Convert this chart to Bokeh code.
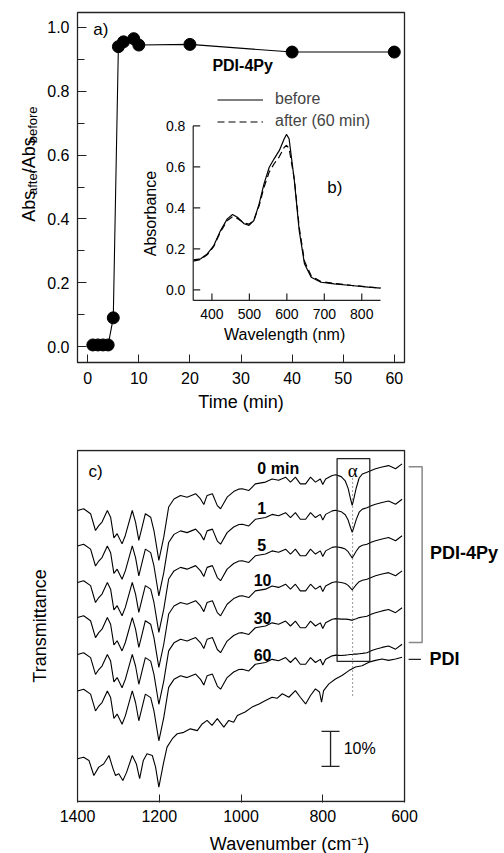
from math import pi
from bokeh.plotting import figure
from bokeh.layouts import column, row
from bokeh.models import Range1d, FixedTicker, PrintfTickFormatter, Legend, LegendItem
from bokeh.core.properties import value
from bokeh.embed import file_html
from bokeh.resources import INLINE

FONT = "Liberation Sans"
INK = "#222222"

# ---------------- panel a) data ----------------
TIME_MIN = [1, 2, 3, 4, 5, 6, 7, 9, 10, 20, 40, 60]
ABS_RATIO = [0.005, 0.005, 0.005, 0.005, 0.09, 0.94, 0.955, 0.965, 0.945, 0.947, 0.923, 0.923]
A_XTICKS = [0, 10, 20, 30, 40, 50, 60]
A_YTICKS = [0.0, 0.2, 0.4, 0.6, 0.8, 1.0]
A_YMINOR = [0.1, 0.3, 0.5, 0.7, 0.9]

# ---------------- panel b) data (inset) ----------------
WL_NM = [350, 370, 388, 405, 423, 441, 455, 468, 486, 499, 512, 526, 539, 553, 566,
         580, 593, 599, 606, 620, 633, 647, 665, 691, 727, 772, 817, 850]
ABS_BEFORE = [0.146, 0.151, 0.176, 0.216, 0.289, 0.346, 0.367, 0.354, 0.322, 0.314, 0.338,
              0.419, 0.517, 0.598, 0.639, 0.680, 0.737, 0.758, 0.737, 0.533, 0.289, 0.127,
              0.061, 0.037, 0.029, 0.021, 0.013, 0.008]
ABS_AFTER = [0.140, 0.148, 0.172, 0.212, 0.283, 0.338, 0.357, 0.348, 0.326, 0.320, 0.340,
             0.410, 0.500, 0.575, 0.615, 0.650, 0.695, 0.705, 0.690, 0.540, 0.305, 0.140,
             0.068, 0.040, 0.031, 0.022, 0.014, 0.009]
B_XTICKS = [400, 500, 600, 700, 800]
B_YTICKS = [0.0, 0.2, 0.4, 0.6, 0.8]
B_YTICK_LABELS = ["0.0", "0.2", "0.4", "0.6", "0.8"]

# ---------------- panel c) data (IR, transmittance %) ----------------
BASE_WN = [1400, 1385, 1368, 1356, 1348, 1340, 1327, 1319, 1311, 1303, 1291, 1283, 1266, 1258,
           1250, 1242, 1234, 1221, 1213, 1201, 1189, 1177, 1164, 1148, 1132, 1111, 1099, 1091,
           1083, 1070, 1058, 1050, 1034, 1018, 1005, 997, 981, 965, 940, 924, 908, 891, 879,
           867, 855, 842, 830, 818, 806, 800, 793, 777, 768, 755, 745, 738, 732, 728, 724,
           718, 711, 703, 692, 680, 671, 655, 639, 622, 606]
BASE_T = [82.9, 83.4, 82.0, 77.2, 78.6, 79.6, 82.9, 81.0, 75.1, 76.3, 73.4, 75.8, 82.9, 79.6,
          74.4, 78.2, 82.0, 81.0, 77.2, 68.7, 75.3, 83.9, 86.2, 87.2, 86.7, 87.7, 86.2, 84.6,
          87.2, 87.7, 84.3, 83.4, 86.7, 88.3, 89.0, 89.1, 88.6, 90.5, 91.0, 91.9, 91.5, 92.4,
          91.0, 92.4, 90.5, 90.5, 92.4, 91.0, 91.9, 90.3, 91.9, 92.9, 93.1, 93.0, 93.1, 93.2,
          93.3, 93.3, 93.4, 93.4, 93.5, 93.6, 93.8, 94.4, 94.8, 95.3, 95.7, 94.8, 96.2]
ALPHA_WN = [755, 745, 738, 732, 728, 724, 718, 711, 703]
ALPHA_REL = [0.05, 0.2, 0.45, 0.8, 1.0, 0.8, 0.45, 0.15, 0.03]
TRACE_LABELS = ["0 min", "1", "5", "10", "30", "60"]
TRACE_SHIFT = [0.0, -10.1, -20.5, -30.5, -41.0, -51.4]
ALPHA_DEPTH = [8.9, 6.5, 3.4, 2.5, 0.7, 0.0]

PDI_WN = [1400, 1385, 1372, 1360, 1348, 1336, 1323, 1313, 1307, 1299, 1289, 1280, 1266, 1256,
          1248, 1239, 1230, 1217, 1209, 1201, 1190, 1181, 1168, 1156, 1140, 1124, 1107, 1095,
          1083, 1071, 1058, 1042, 1030, 1018, 1009, 990, 973, 956, 940, 924, 912, 899, 883,
          867, 855, 842, 830, 818, 808, 803, 798, 785, 769, 753, 736, 720, 704, 687, 671,
          655, 639, 622, 606]
PDI_T = [12.2, 12.6, 11.7, 7.4, 9.8, 10.7, 13.1, 9.3, 7.4, 7.9, 6.0, 8.3, 13.1, 10.7, 6.5,
         11.7, 13.6, 13.1, 9.8, 4.1, 10.7, 15.5, 17.9, 19.3, 19.7, 20.7, 20.2, 22.1, 23.1,
         21.7, 23.6, 21.2, 23.1, 22.6, 24.5, 25.5, 26.9, 27.8, 28.8, 29.7, 29.4, 30.7, 29.7,
         31.6, 29.7, 27.8, 30.2, 32.1, 31.2, 28.3, 31.6, 33.5, 34.9, 35.9, 37.3, 38.3, 38.7,
         39.7, 40.2, 40.6, 40.2, 40.6, 41.1]
C_XTICKS = [1400, 1200, 1000, 800, 600]


def txt(p, x, y, s, size, bold=False, align="left", baseline="middle", angle=0.0,
        font=FONT, color="black", **kw):
    p.text(x=[x], y=[y], text=[s], text_font=value(font), text_font_size=f"{size}px",
           text_font_style="bold" if bold else "normal", text_align=align,
           text_baseline=baseline, angle=angle, text_color=color, **kw)


TOP_H = 420

# =============== narrow strip holding the composite y label of a) ===============
pl = figure(width=40, height=TOP_H, x_range=Range1d(0, 40), y_range=Range1d(0, TOP_H),
            min_border=0, x_axis_location=None, y_axis_location=None,
            toolbar_location=None, output_backend="svg", title=None)
pl.outline_line_color = None
pl.grid.visible = False
# pieces: text, font px, start (px from top of strip), subscript?
for s, size, ystart, sub in [("Abs", 18, 251, False), ("after", 13, 219, True),
                             ("/Abs", 18, 193, False), ("before", 13, 157, True)]:
    txt(pl, 32 if sub else 28, TOP_H - ystart, s, size, align="left",
        baseline="alphabetic", angle=pi / 2)

# =============== top figure: a) with inset b) ===============
pa = figure(frame_width=327, frame_height=350, x_range=Range1d(-2, 62),
            y_range=Range1d(-0.05, 1.047), min_border_left=37, min_border_right=100,
            min_border_top=12, min_border_bottom=58, toolbar_location=None,
            output_backend="svg", title=None)
pa.outline_line_color = INK
pa.outline_line_width = 1.3
pa.grid.visible = False

xa = pa.xaxis[0]
xa.ticker = FixedTicker(ticks=A_XTICKS)
xa.major_tick_in = 8
xa.major_tick_out = 0
xa.minor_tick_line_color = None
xa.axis_line_color = INK
xa.major_tick_line_color = INK
xa.major_label_text_font = FONT
xa.major_label_text_font_size = "16px"
xa.major_label_text_color = "black"
xa.major_label_standoff = 9
xa.axis_label = "Time (min)"
xa.axis_label_text_font = FONT
xa.axis_label_text_font_size = "18px"
xa.axis_label_text_font_style = "normal"
xa.axis_label_text_color = "black"
xa.axis_label_standoff = 5

ya = pa.yaxis[0]
ya.ticker = FixedTicker(ticks=A_YTICKS, minor_ticks=A_YMINOR)
ya.formatter = PrintfTickFormatter(format="%.1f")
ya.major_tick_in = 9
ya.major_tick_out = 0
ya.minor_tick_in = 7
ya.minor_tick_out = 0
ya.axis_line_color = INK
ya.major_tick_line_color = INK
ya.minor_tick_line_color = INK
ya.major_label_text_font = FONT
ya.major_label_text_font_size = "16px"
ya.major_label_text_color = "black"
ya.major_label_standoff = 8

pa.line(TIME_MIN, ABS_RATIO, line_color="black", line_width=1.1)
pa.scatter(TIME_MIN, ABS_RATIO, size=12, fill_color="black", line_color="black")

txt(pa, 1.1, 0.994, "a)", 17)
txt(pa, 24.4, 0.881, "PDI-4Py", 16, bold=True)
txt(pa, 46.9, 0.498, "b)", 17)

# inset coordinate system
pa.extra_x_ranges = {"wl": Range1d(41.1, 914.1)}
pa.extra_y_ranges = {"ab": Range1d(-0.3546, 1.3527)}
IN = dict(x_range_name="wl", y_range_name="ab")

rb = pa.line(WL_NM, ABS_BEFORE, line_color="black", line_width=1.2, **IN)
ra = pa.line(WL_NM, ABS_AFTER, line_color="black", line_width=1.2, line_dash="7 4", **IN)

y_bot = -0.052
pa.segment(x0=[350, 350], y0=[y_bot, y_bot], x1=[350, 850], y1=[0.8, y_bot],
           line_color=INK, line_width=1.2, **IN)
pa.segment(x0=B_XTICKS, y0=[y_bot] * len(B_XTICKS), x1=B_XTICKS,
           y1=[y_bot + 0.034] * len(B_XTICKS), line_color=INK, line_width=1.2, **IN)
pa.segment(x0=[350] * len(B_YTICKS), y0=B_YTICKS, x1=[368.7] * len(B_YTICKS), y1=B_YTICKS,
           line_color=INK, line_width=1.2, **IN)
pa.text(x=B_XTICKS, y=[-0.12] * len(B_XTICKS), text=[str(v) for v in B_XTICKS],
        text_font=value(FONT), text_font_size="14px", text_align="center",
        text_baseline="middle", **IN)
pa.text(x=[329] * len(B_YTICKS), y=B_YTICKS, text=B_YTICK_LABELS,
        text_font=value(FONT), text_font_size="14px", text_align="right",
        text_baseline="middle", **IN)
txt(pa, 236, 0.372, "Absorbance", 16, align="center", angle=pi / 2, **IN)
txt(pa, 594, -0.218, "Wavelength (nm)", 16, align="center", **IN)

legend = Legend(items=[LegendItem(label="before", renderers=[rb]),
                       LegendItem(label="after (60 min)", renderers=[ra])],
                location=(140, 232), border_line_color=None, background_fill_alpha=0,
                padding=0, margin=0, spacing=4, glyph_width=46, glyph_height=15,
                label_height=15, label_standoff=12, label_text_font=FONT,
                label_text_font_size="16px", label_text_baseline="middle")
pa.add_layout(legend)

# =============== bottom figure: c) ===============
PX_PER_CM = 0.4088
PX_PER_PCT = 3.51
x0 = 1400 + 1 / PX_PER_CM
y1 = 100 + 1 / PX_PER_PCT
pc = figure(frame_width=426, frame_height=353, x_range=Range1d(x0, x0 - 426 / PX_PER_CM),
            y_range=Range1d(y1 - 353 / PX_PER_PCT, y1), min_border_left=76,
            min_border_right=2, min_border_top=29, min_border_bottom=51,
            toolbar_location=None, output_backend="svg", title=None)
pc.outline_line_color = None
pc.grid.visible = False

xc = pc.xaxis[0]
xc.ticker = FixedTicker(ticks=C_XTICKS)
xc.bounds = (600, 1400)
xc.axis_line_color = None
xc.major_tick_in = 8
xc.major_tick_out = 0
xc.minor_tick_line_color = None
xc.major_tick_line_color = INK
xc.major_label_text_font = FONT
xc.major_label_text_font_size = "16px"
xc.major_label_text_color = "black"
xc.major_label_standoff = 7
xc.axis_label = "Wavenumber (cm\u207b\u00b9)"
xc.axis_label_text_font = FONT
xc.axis_label_text_font_size = "18px"
xc.axis_label_text_font_style = "normal"
xc.axis_label_text_color = "black"
xc.axis_label_standoff = 9

yc = pc.yaxis[0]
yc.ticker = FixedTicker(ticks=[])
yc.axis_line_color = None
yc.major_tick_line_color = None
yc.minor_tick_line_color = None
yc.axis_label = "Transmittance"
yc.axis_label_text_font = FONT
yc.axis_label_text_font_size = "18px"
yc.axis_label_text_font_style = "normal"
yc.axis_label_text_color = "black"
yc.axis_label_standoff = 27

# frame box of the spectrum panel
pc.quad(left=[1400], right=[600], bottom=[0], top=[100], fill_color=None,
        line_color=INK, line_width=1.3)

alpha_map = dict(zip(ALPHA_WN, ALPHA_REL))
for k in range(len(TRACE_LABELS)):
    ys = [t + TRACE_SHIFT[k] - ALPHA_DEPTH[k] * alpha_map.get(w, 0.0)
          for w, t in zip(BASE_WN, BASE_T)]
    pc.line(BASE_WN, ys, line_color="black", line_width=1.1)
pc.line(PDI_WN, PDI_T, line_color="black", line_width=1.1)

LABEL_WN = [960, 960, 960, 969, 969, 969]
LABEL_Y = [94.9, 83.5, 73.2, 63.0, 52.4, 41.6]
for s, xw, yv in zip(TRACE_LABELS, LABEL_WN, LABEL_Y):
    txt(pc, xw, yv, s, 16, bold=True)

# alpha band box, dotted marker
pc.quad(left=[765], right=[685], bottom=[39.9], top=[97.7], fill_color=None,
        line_color=INK, line_width=1.3)
pc.segment(x0=[727], y0=[30.2], x1=[727], y1=[92.3], line_color="#333333",
           line_width=1, line_dash="1 3")
txt(pc, 727, 94.4, "\u03b1", 19, align="center", font="Liberation Serif")
txt(pc, 1373, 94.0, "c)", 17)

# 10 % scale bar
pc.segment(x0=[781, 803, 803], y0=[10, 10, 20], x1=[781, 759, 759], y1=[20, 10, 20],
           line_color=INK, line_width=1.3)
txt(pc, 749, 15.1, "10%", 16)

# bracket for PDI-4Py and tick for PDI
pc.line([590, 557, 557, 590], [95.4, 95.4, 45.3, 45.3], line_color="#888888", line_width=1.5)
txt(pc, 538, 70.7, "PDI-4Py", 18, bold=True)
pc.segment(x0=[590], y0=[40.5], x1=[560], y1=[40.5], line_color=INK, line_width=1.3)
txt(pc, 539, 40.5, "PDI", 18, bold=True)

page = column(row(pl, pa), pc)
open("out.html", "w").write(file_html(page, INLINE))
